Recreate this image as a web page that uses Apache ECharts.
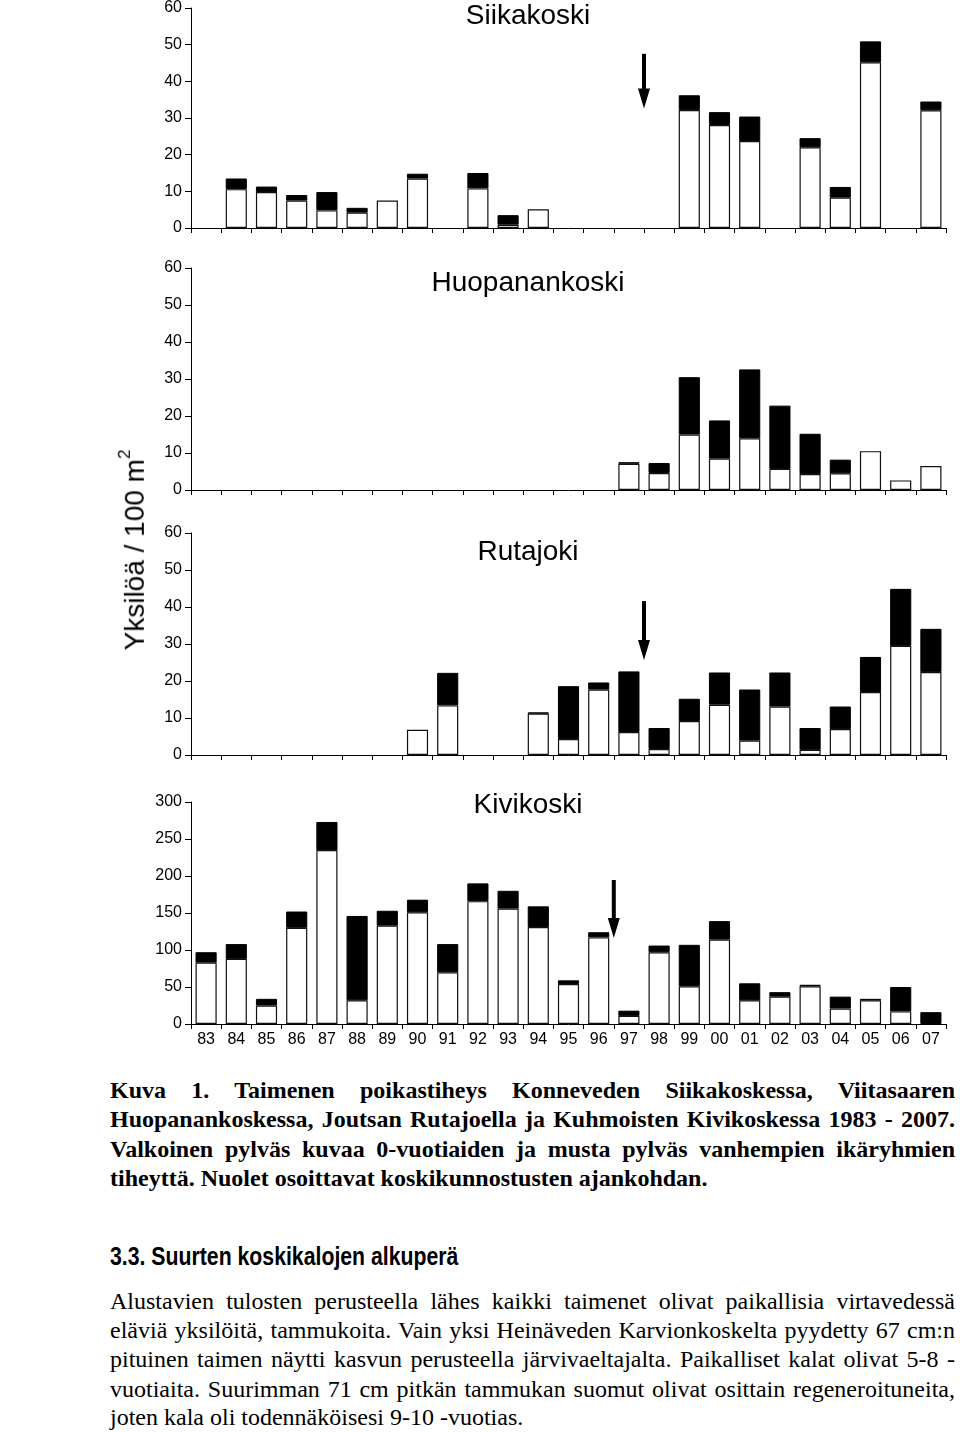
<!DOCTYPE html>
<html>
<head>
<meta charset="utf-8">
<script src="https://cdn.jsdelivr.net/npm/echarts@6.0.0/dist/echarts.min.js"></script>
<style>
  html, body { margin: 0; padding: 0; background: #fff; }
  #wrap { position: relative; width: 960px; height: 1432px; overflow: hidden; }
  #chart { position: absolute; left: 0; top: 0; width: 960px; height: 1060px; }
  .ylab { position: absolute; left: 135px; top: 550px; transform: translate(-50%, -50%) rotate(-90deg);
          font-family: "Liberation Sans", Arial, sans-serif; font-size: 28px; white-space: nowrap; color: #000; }
  .ylab sup { font-size: 17px; position: relative; top: -4px; }
  .ln { position: absolute; left: 110px; width: 845px; height: 29px; line-height: 29px; white-space: nowrap; color: #000; }
  .cap { font-family: "Liberation Serif", "Times New Roman", serif; font-weight: bold; font-size: 24px; }
  .par { font-family: "Liberation Serif", "Times New Roman", serif; font-size: 24px; }
  .j { text-align: justify; text-align-last: justify; white-space: normal; }
  .head { position: absolute; left: 110px; top: 1240px; font-family: "Liberation Sans", Arial, sans-serif; font-weight: bold; font-size: 25px; line-height: 32px; white-space: nowrap; transform: scaleX(0.85); transform-origin: left center; }
</style>
</head>
<body>
<div id="wrap">
  <div id="chart"></div>
  <div class="ylab">Yksilöä / 100 m<sup>2</sup></div>

  <div class="ln cap j" style="top:1076px">Kuva 1. Taimenen poikastiheys Konneveden Siikakoskessa, Viitasaaren</div>
  <div class="ln cap j" style="top:1105px">Huopanankoskessa, Joutsan Rutajoella ja Kuhmoisten Kivikoskessa 1983 - 2007.</div>
  <div class="ln cap j" style="top:1135px">Valkoinen pylväs kuvaa 0-vuotiaiden ja musta pylväs vanhempien ikäryhmien</div>
  <div class="ln cap" style="top:1164px">tiheyttä. Nuolet osoittavat koskikunnostusten ajankohdan.</div>

  <div class="head">3.3. Suurten koskikalojen alkuperä</div>

  <div class="ln par j" style="top:1287px">Alustavien tulosten perusteella lähes kaikki taimenet olivat paikallisia virtavedessä</div>
  <div class="ln par j" style="top:1316px">eläviä yksilöitä, tammukoita. Vain yksi Heinäveden Karvionkoskelta pyydetty 67 cm:n</div>
  <div class="ln par j" style="top:1345px">pituinen taimen näytti kasvun perusteella järvivaeltajalta. Paikalliset kalat olivat 5-8 -</div>
  <div class="ln par j" style="top:1375px">vuotiaita. Suurimman 71 cm pitkän tammukan suomut olivat osittain regeneroituneita,</div>
  <div class="ln par" style="top:1403px">joten kala oli todennäköisesi 9-10 -vuotias.</div>
</div>
<script>
// ---- Data (density, individuals / 100 m2) ----
const years = ['83','84','85','86','87','88','89','90','91','92','93','94','95','96','97','98','99','00','01','02','03','04','05','06','07'];

const panelNames = ['Siikakoski', 'Huopanankoski', 'Rutajoki', 'Kivikoski'];

// 0-year-olds (white bars)
const siikaYoung = [null, 10.6, 9.8, 7.5, 4.8, 4.2, 7.5, 13.5, null, 10.8, 0.9, 5.1, null, null, null, null, 32.2, 28.1, 23.7, null, 22.0, 8.3, 45.2, null, 32.1];
// older age groups (black bars)
const siikaOld   = [null, 2.9, 1.5, 1.5, 5.0, 1.3, null, 1.3, null, 4.2, 2.6, null, null, null, null, null, 4.0, 3.5, 6.7, null, 2.5, 2.9, 5.7, null, 2.4];

const huopYoung = [null, null, null, null, null, null, null, null, null, null, null, null, null, null, 7.1, 4.6, 15.0, 8.5, 14.0, 5.7, 4.3, 4.5, 10.5, 2.6, 6.5];
const huopOld   = [null, null, null, null, null, null, null, null, null, null, null, null, null, null, 0.4, 2.7, 15.5, 10.3, 18.6, 17.1, 10.9, 3.7, null, null, null];

const rutaYoung = [null, null, null, null, null, null, null, 6.8, 13.4, null, null, 11.2, 4.3, 17.7, 6.2, 1.6, 9.2, 13.6, 3.9, 13.1, 1.4, 7.0, 17.0, 29.5, 22.4];
const rutaOld   = [null, null, null, null, null, null, null, null, 8.8, null, null, 0.3, 14.3, 1.9, 16.4, 5.7, 6.0, 8.7, 13.8, 9.2, 5.9, 6.1, 9.5, 15.4, 11.7];

const kiviYoung = [83, 88, 25, 130, 235, 32, 133, 151, 70, 166, 156, 131, 54, 117, 11, 97, 51, 114, 32, 37, 51, 21, 32, 17, null];
const kiviOld   = [14, 20, 9, 22, 38, 114, 20, 17, 38, 24, 24, 28, 5, 7, 7, 9, 56, 25, 23, 6, 2, 16, 2, 33, 16];

const youngSeries = [siikaYoung, huopYoung, rutaYoung, kiviYoung];
const oldSeries = [siikaOld, huopOld, rutaOld, kiviOld];

const yMax = [60, 60, 60, 300];
const yStep = [10, 10, 10, 50];

// restoration arrows: between two years, from/to values on the y axis
const arrows = [
  { panel: 0, between: ['97', '98'], from: 47.5, to: 32.6 },
  { panel: 2, between: ['97', '98'], from: 41.6, to: 25.7 },
  { panel: 3, between: ['96', '97'], from: 194.6, to: 116.2 }
];

// ---- Layout ----
const gridTops = [7, 268, 533, 802];
const gridHeights = [221, 222, 222, 222];
const titleY = [16, 283, 552, 805];
const titleX = 528;

const FONT = '"Liberation Sans", Arial, sans-serif';

const chart = echarts.init(document.getElementById('chart'), null, { renderer: 'canvas' });

const grids = [], xAxes = [], yAxes = [], series = [];
for (let i = 0; i < 4; i++) {
  grids.push({ left: 191, right: 14, top: gridTops[i], height: gridHeights[i], containLabel: false });
  xAxes.push({
    type: 'category', gridIndex: i, data: years, boundaryGap: true,
    axisLine: { show: true, lineStyle: { color: '#000', width: 1 } },
    axisTick: { show: true, interval: 0, length: 5, inside: false, lineStyle: { color: '#000' } },
    axisLabel: { show: i === 3, interval: 0, margin: 8, fontSize: 16, color: '#000', fontFamily: FONT },
    splitLine: { show: false }
  });
  yAxes.push({
    type: 'value', gridIndex: i, min: 0, max: yMax[i], interval: yStep[i],
    axisLine: { show: true, lineStyle: { color: '#000', width: 1 } },
    axisTick: { show: true, length: 6, lineStyle: { color: '#000' } },
    axisLabel: { fontSize: 16, color: '#000', margin: 9, fontFamily: FONT },
    splitLine: { show: false }
  });
  series.push({
    type: 'bar', xAxisIndex: i, yAxisIndex: i, stack: 's' + i, barWidth: '70%',
    data: youngSeries[i],
    itemStyle: { color: '#fff', borderColor: '#111', borderWidth: 1.2 },
    silent: true
  });
  series.push({
    type: 'bar', xAxisIndex: i, yAxisIndex: i, stack: 's' + i, barWidth: '70%',
    data: oldSeries[i],
    itemStyle: { color: '#000', borderColor: '#000', borderWidth: 1 },
    silent: true
  });
}

const titleGraphics = panelNames.map((t, i) => ({
  type: 'text', x: titleX, y: titleY[i], silent: true,
  style: { text: t, fontSize: 28, fontFamily: FONT, fill: '#000', align: 'center', verticalAlign: 'middle' }
}));

chart.setOption({
  animation: false,
  backgroundColor: '#fff',
  grid: grids, xAxis: xAxes, yAxis: yAxes, series: series,
  graphic: titleGraphics
});

// arrows, placed through the axes' own scales
const arrowGraphics = [];
arrows.forEach(a => {
  const p1 = chart.convertToPixel({ xAxisIndex: a.panel }, a.between[0]);
  const p2 = chart.convertToPixel({ xAxisIndex: a.panel }, a.between[1]);
  const x = (p1 + p2) / 2;
  const yTop = chart.convertToPixel({ yAxisIndex: a.panel }, a.from);
  const yTip = chart.convertToPixel({ yAxisIndex: a.panel }, a.to);
  const headH = 20, headW = 12;
  arrowGraphics.push({
    type: 'line', silent: true,
    shape: { x1: x, y1: yTop, x2: x, y2: yTip - headH + 2 },
    style: { stroke: '#000', lineWidth: 4 }
  });
  arrowGraphics.push({
    type: 'polygon', silent: true,
    shape: { points: [[x - headW / 2, yTip - headH], [x + headW / 2, yTip - headH], [x, yTip]] },
    style: { fill: '#000' }
  });
});

chart.setOption({ graphic: titleGraphics.concat(arrowGraphics) }, { replaceMerge: ['graphic'] });
</script>
</body>
</html>
